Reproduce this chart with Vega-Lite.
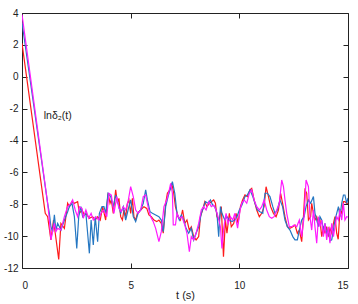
{
"$schema":"https://vega.github.io/schema/vega-lite/v6.json",
"width":326,"height":255,
"autosize":{"type":"none"},
"padding":{"left":22,"top":13,"right":10,"bottom":36},
"config":{"view":{"stroke":"#222","strokeWidth":1},"axis":{"grid":false,"domain":false,"tickColor":"#222","labelColor":"#222","labelFont":"Liberation Sans","labelFontSize":10,"titleFont":"Liberation Sans","titleFontSize":11,"titleFontWeight":"normal","titleColor":"#222","tickSize":-5,"labelExpr":"replace(datum.label, '−', '-')"}},
"layer":[
{"data":{"values":[
{"s":"red","t":0,"v":2.1},{"s":"red","t":1.07,"v":-8.57},{"s":"red","t":1.18,"v":-8.78},{"s":"red","t":1.33,"v":-10.24},{"s":"red","t":1.45,"v":-8.99},{"s":"red","t":1.69,"v":-11.46},{"s":"red","t":1.79,"v":-9.2},{"s":"red","t":1.95,"v":-9.51},{"s":"red","t":2.1,"v":-7.94},{"s":"red","t":2.18,"v":-8.15},{"s":"red","t":2.3,"v":-7.84},{"s":"red","t":2.41,"v":-7.94},{"s":"red","t":2.56,"v":-7.84},{"s":"red","t":2.64,"v":-8.57},{"s":"red","t":2.76,"v":-8.36},{"s":"red","t":2.87,"v":-8.67},{"s":"red","t":2.94,"v":-8.57},{"s":"red","t":3.1,"v":-8.88},{"s":"red","t":3.25,"v":-8.78},{"s":"red","t":3.37,"v":-8.99},{"s":"red","t":3.48,"v":-8.78},{"s":"red","t":3.6,"v":-8.99},{"s":"red","t":3.71,"v":-8.15},{"s":"red","t":3.85,"v":-8.99},{"s":"red","t":3.96,"v":-7.31},{"s":"red","t":4.05,"v":-7.94},{"s":"red","t":4.11,"v":-7.73},{"s":"red","t":4.2,"v":-8.57},{"s":"red","t":4.31,"v":-7.1},{"s":"red","t":4.39,"v":-7.94},{"s":"red","t":4.46,"v":-7.63},{"s":"red","t":4.54,"v":-8.78},{"s":"red","t":4.62,"v":-8.99},{"s":"red","t":4.69,"v":-8.36},{"s":"red","t":4.77,"v":-8.78},{"s":"red","t":4.85,"v":-7.94},{"s":"red","t":4.92,"v":-7.73},{"s":"red","t":5.0,"v":-8.57},{"s":"red","t":5.08,"v":-7.63},{"s":"red","t":5.15,"v":-8.78},{"s":"red","t":5.23,"v":-8.99},{"s":"red","t":5.31,"v":-8.57},{"s":"red","t":5.46,"v":-8.36},{"s":"red","t":5.61,"v":-8.15},{"s":"red","t":5.74,"v":-8.26},{"s":"red","t":5.84,"v":-8.67},{"s":"red","t":5.95,"v":-8.78},{"s":"red","t":6.07,"v":-8.99},{"s":"red","t":6.2,"v":-9.09},{"s":"red","t":6.3,"v":-8.99},{"s":"red","t":6.41,"v":-9.2},{"s":"red","t":6.5,"v":-9.82},{"s":"red","t":6.61,"v":-7.94},{"s":"red","t":6.69,"v":-7.31},{"s":"red","t":6.8,"v":-7.1},{"s":"red","t":6.89,"v":-6.69},{"s":"red","t":6.98,"v":-7.3},{"s":"red","t":7.06,"v":-8.15},{"s":"red","t":7.18,"v":-8.78},{"s":"red","t":7.29,"v":-8.99},{"s":"red","t":7.39,"v":-8.36},{"s":"red","t":7.49,"v":-9.2},{"s":"red","t":7.59,"v":-8.99},{"s":"red","t":7.7,"v":-9.62},{"s":"red","t":7.79,"v":-9.41},{"s":"red","t":7.9,"v":-10.03},{"s":"red","t":8.01,"v":-10.24},{"s":"red","t":8.13,"v":-10.03},{"s":"red","t":8.21,"v":-8.78},{"s":"red","t":8.31,"v":-8.36},{"s":"red","t":8.41,"v":-7.84},{"s":"red","t":8.51,"v":-8.15},{"s":"red","t":8.62,"v":-7.94},{"s":"red","t":8.71,"v":-7.84},{"s":"red","t":8.82,"v":-7.73},{"s":"red","t":8.9,"v":-7.94},{"s":"red","t":8.97,"v":-8.78},{"s":"red","t":9.08,"v":-8.99},{"s":"red","t":9.17,"v":-8.15},{"s":"red","t":9.27,"v":-11.29},{"s":"red","t":9.36,"v":-8.99},{"s":"red","t":9.43,"v":-9.82},{"s":"red","t":9.54,"v":-8.57},{"s":"red","t":9.63,"v":-9.41},{"s":"red","t":9.74,"v":-9.2},{"s":"red","t":9.85,"v":-8.57},{"s":"red","t":9.94,"v":-9.2},{"s":"red","t":10.05,"v":-8.15},{"s":"red","t":10.15,"v":-7.73},{"s":"red","t":10.26,"v":-7.42},{"s":"red","t":10.37,"v":-7.52},{"s":"red","t":10.49,"v":-7.1},{"s":"red","t":10.57,"v":-7.0},{"s":"red","t":10.68,"v":-7.73},{"s":"red","t":10.8,"v":-8.36},{"s":"red","t":10.92,"v":-8.78},{"s":"red","t":11.03,"v":-8.57},{"s":"red","t":11.14,"v":-8.15},{"s":"red","t":11.23,"v":-6.9},{"s":"red","t":11.34,"v":-7.52},{"s":"red","t":11.44,"v":-8.15},{"s":"red","t":11.57,"v":-8.57},{"s":"red","t":11.69,"v":-8.78},{"s":"red","t":11.8,"v":-8.36},{"s":"red","t":11.9,"v":-7.31},{"s":"red","t":11.99,"v":-7.94},{"s":"red","t":12.1,"v":-8.78},{"s":"red","t":12.21,"v":-9.41},{"s":"red","t":12.33,"v":-9.51},{"s":"red","t":12.46,"v":-9.41},{"s":"red","t":12.56,"v":-9.3},{"s":"red","t":12.67,"v":-9.82},{"s":"red","t":12.76,"v":-9.62},{"s":"red","t":12.87,"v":-10.35},{"s":"red","t":12.95,"v":-8.78},{"s":"red","t":13.02,"v":-7.1},{"s":"red","t":13.1,"v":-7.31},{"s":"red","t":13.18,"v":-8.99},{"s":"red","t":13.28,"v":-8.78},{"s":"red","t":13.33,"v":-7.94},{"s":"red","t":13.41,"v":-8.57},{"s":"red","t":13.48,"v":-8.99},{"s":"red","t":13.56,"v":-8.78},{"s":"red","t":13.64,"v":-9.2},{"s":"red","t":13.71,"v":-8.99},{"s":"red","t":13.79,"v":-10.03},{"s":"red","t":13.87,"v":-9.41},{"s":"red","t":13.94,"v":-9.82},{"s":"red","t":14.02,"v":-9.41},{"s":"red","t":14.1,"v":-10.03},{"s":"red","t":14.17,"v":-9.51},{"s":"red","t":14.25,"v":-9.82},{"s":"red","t":14.33,"v":-9.2},{"s":"red","t":14.4,"v":-8.78},{"s":"red","t":14.48,"v":-9.82},{"s":"red","t":14.55,"v":-10.2},{"s":"red","t":14.63,"v":-8.36},{"s":"red","t":14.71,"v":-8.57},{"s":"red","t":14.79,"v":-7.84},{"s":"red","t":14.86,"v":-7.84},{"s":"red","t":14.94,"v":-7.94},{"s":"red","t":15.0,"v":-7.94},
{"s":"blue","t":0,"v":3.4},{"s":"blue","t":1.18,"v":-7.94},{"s":"blue","t":1.26,"v":-8.57},{"s":"blue","t":1.33,"v":-9.41},{"s":"blue","t":1.41,"v":-9.72},{"s":"blue","t":1.49,"v":-8.67},{"s":"blue","t":1.56,"v":-9.62},{"s":"blue","t":1.64,"v":-9.2},{"s":"blue","t":1.72,"v":-9.41},{"s":"blue","t":1.79,"v":-9.62},{"s":"blue","t":1.95,"v":-8.99},{"s":"blue","t":2.1,"v":-8.47},{"s":"blue","t":2.18,"v":-8.15},{"s":"blue","t":2.3,"v":-7.94},{"s":"blue","t":2.41,"v":-8.78},{"s":"blue","t":2.52,"v":-10.77},{"s":"blue","t":2.61,"v":-8.78},{"s":"blue","t":2.71,"v":-8.15},{"s":"blue","t":2.79,"v":-8.78},{"s":"blue","t":2.94,"v":-8.57},{"s":"blue","t":3.02,"v":-9.82},{"s":"blue","t":3.1,"v":-11.08},{"s":"blue","t":3.18,"v":-8.99},{"s":"blue","t":3.28,"v":-10.56},{"s":"blue","t":3.37,"v":-8.78},{"s":"blue","t":3.48,"v":-10.35},{"s":"blue","t":3.56,"v":-8.57},{"s":"blue","t":3.68,"v":-8.15},{"s":"blue","t":3.77,"v":-8.15},{"s":"blue","t":3.85,"v":-8.57},{"s":"blue","t":3.96,"v":-7.31},{"s":"blue","t":4.08,"v":-7.52},{"s":"blue","t":4.2,"v":-8.15},{"s":"blue","t":4.31,"v":-7.42},{"s":"blue","t":4.42,"v":-7.94},{"s":"blue","t":4.54,"v":-8.57},{"s":"blue","t":4.66,"v":-8.15},{"s":"blue","t":4.77,"v":-8.99},{"s":"blue","t":4.88,"v":-8.36},{"s":"blue","t":5.0,"v":-7.73},{"s":"blue","t":5.12,"v":-8.78},{"s":"blue","t":5.23,"v":-9.09},{"s":"blue","t":5.34,"v":-8.57},{"s":"blue","t":5.46,"v":-8.36},{"s":"blue","t":5.58,"v":-7.94},{"s":"blue","t":5.69,"v":-7.1},{"s":"blue","t":5.77,"v":-7.73},{"s":"blue","t":5.89,"v":-8.47},{"s":"blue","t":6.0,"v":-8.57},{"s":"blue","t":6.15,"v":-8.67},{"s":"blue","t":6.3,"v":-8.78},{"s":"blue","t":6.41,"v":-8.99},{"s":"blue","t":6.5,"v":-9.72},{"s":"blue","t":6.61,"v":-8.15},{"s":"blue","t":6.72,"v":-7.52},{"s":"blue","t":6.81,"v":-7.1},{"s":"blue","t":6.92,"v":-6.58},{"s":"blue","t":7.03,"v":-7.31},{"s":"blue","t":7.13,"v":-8.57},{"s":"blue","t":7.24,"v":-8.99},{"s":"blue","t":7.33,"v":-8.67},{"s":"blue","t":7.44,"v":-8.99},{"s":"blue","t":7.55,"v":-9.51},{"s":"blue","t":7.67,"v":-9.82},{"s":"blue","t":7.79,"v":-9.51},{"s":"blue","t":7.9,"v":-10.24},{"s":"blue","t":8.01,"v":-9.82},{"s":"blue","t":8.13,"v":-9.41},{"s":"blue","t":8.25,"v":-8.57},{"s":"blue","t":8.36,"v":-8.15},{"s":"blue","t":8.44,"v":-7.84},{"s":"blue","t":8.56,"v":-7.94},{"s":"blue","t":8.67,"v":-7.73},{"s":"blue","t":8.77,"v":-8.05},{"s":"blue","t":8.87,"v":-8.15},{"s":"blue","t":8.97,"v":-8.57},{"s":"blue","t":9.05,"v":-10.03},{"s":"blue","t":9.13,"v":-8.15},{"s":"blue","t":9.2,"v":-8.57},{"s":"blue","t":9.33,"v":-8.99},{"s":"blue","t":9.43,"v":-8.78},{"s":"blue","t":9.54,"v":-8.99},{"s":"blue","t":9.66,"v":-9.09},{"s":"blue","t":9.79,"v":-8.99},{"s":"blue","t":9.89,"v":-8.78},{"s":"blue","t":10.0,"v":-8.36},{"s":"blue","t":10.12,"v":-8.05},{"s":"blue","t":10.26,"v":-7.52},{"s":"blue","t":10.37,"v":-7.42},{"s":"blue","t":10.49,"v":-7.1},{"s":"blue","t":10.62,"v":-7.52},{"s":"blue","t":10.72,"v":-7.94},{"s":"blue","t":10.83,"v":-8.36},{"s":"blue","t":10.95,"v":-8.47},{"s":"blue","t":11.08,"v":-8.57},{"s":"blue","t":11.18,"v":-7.31},{"s":"blue","t":11.29,"v":-7.31},{"s":"blue","t":11.41,"v":-7.52},{"s":"blue","t":11.54,"v":-8.15},{"s":"blue","t":11.64,"v":-8.57},{"s":"blue","t":11.75,"v":-8.36},{"s":"blue","t":11.87,"v":-7.73},{"s":"blue","t":11.99,"v":-8.15},{"s":"blue","t":12.1,"v":-8.99},{"s":"blue","t":12.21,"v":-9.41},{"s":"blue","t":12.33,"v":-9.62},{"s":"blue","t":12.46,"v":-10.03},{"s":"blue","t":12.56,"v":-10.24},{"s":"blue","t":12.67,"v":-10.24},{"s":"blue","t":12.76,"v":-9.62},{"s":"blue","t":12.87,"v":-8.99},{"s":"blue","t":12.98,"v":-8.78},{"s":"blue","t":13.07,"v":-8.15},{"s":"blue","t":13.18,"v":-7.73},{"s":"blue","t":13.28,"v":-7.94},{"s":"blue","t":13.41,"v":-7.52},{"s":"blue","t":13.48,"v":-8.57},{"s":"blue","t":13.56,"v":-8.99},{"s":"blue","t":13.64,"v":-9.41},{"s":"blue","t":13.71,"v":-8.78},{"s":"blue","t":13.79,"v":-8.99},{"s":"blue","t":13.87,"v":-9.62},{"s":"blue","t":13.94,"v":-9.2},{"s":"blue","t":14.02,"v":-9.82},{"s":"blue","t":14.1,"v":-9.62},{"s":"blue","t":14.17,"v":-10.3},{"s":"blue","t":14.25,"v":-10.24},{"s":"blue","t":14.33,"v":-9.62},{"s":"blue","t":14.4,"v":-8.99},{"s":"blue","t":14.48,"v":-8.57},{"s":"blue","t":14.56,"v":-8.15},{"s":"blue","t":14.63,"v":-8.78},{"s":"blue","t":14.71,"v":-7.94},{"s":"blue","t":14.79,"v":-7.42},{"s":"blue","t":14.86,"v":-7.42},{"s":"blue","t":14.94,"v":-7.94},{"s":"blue","t":15.0,"v":-7.6},
{"s":"magenta","t":0,"v":3.9},{"s":"magenta","t":1.18,"v":-7.94},{"s":"magenta","t":1.26,"v":-8.99},{"s":"magenta","t":1.33,"v":-10.24},{"s":"magenta","t":1.49,"v":-9.2},{"s":"magenta","t":1.56,"v":-9.72},{"s":"magenta","t":1.64,"v":-9.51},{"s":"magenta","t":1.79,"v":-9.62},{"s":"magenta","t":1.95,"v":-8.78},{"s":"magenta","t":2.1,"v":-8.15},{"s":"magenta","t":2.25,"v":-7.94},{"s":"magenta","t":2.33,"v":-7.73},{"s":"magenta","t":2.45,"v":-8.36},{"s":"magenta","t":2.56,"v":-8.78},{"s":"magenta","t":2.64,"v":-8.15},{"s":"magenta","t":2.76,"v":-8.26},{"s":"magenta","t":2.82,"v":-8.88},{"s":"magenta","t":2.94,"v":-8.36},{"s":"magenta","t":3.07,"v":-8.88},{"s":"magenta","t":3.18,"v":-8.57},{"s":"magenta","t":3.28,"v":-8.99},{"s":"magenta","t":3.4,"v":-8.78},{"s":"magenta","t":3.53,"v":-8.99},{"s":"magenta","t":3.63,"v":-8.57},{"s":"magenta","t":3.77,"v":-8.36},{"s":"magenta","t":3.9,"v":-8.78},{"s":"magenta","t":4.0,"v":-7.31},{"s":"magenta","t":4.11,"v":-7.42},{"s":"magenta","t":4.23,"v":-8.57},{"s":"magenta","t":4.36,"v":-7.52},{"s":"magenta","t":4.46,"v":-8.26},{"s":"magenta","t":4.57,"v":-8.47},{"s":"magenta","t":4.66,"v":-8.15},{"s":"magenta","t":4.77,"v":-8.36},{"s":"magenta","t":4.88,"v":-7.84},{"s":"magenta","t":5.0,"v":-6.9},{"s":"magenta","t":5.12,"v":-7.52},{"s":"magenta","t":5.23,"v":-8.36},{"s":"magenta","t":5.34,"v":-8.57},{"s":"magenta","t":5.46,"v":-8.36},{"s":"magenta","t":5.58,"v":-7.52},{"s":"magenta","t":5.69,"v":-7.42},{"s":"magenta","t":5.8,"v":-8.15},{"s":"magenta","t":5.92,"v":-8.78},{"s":"magenta","t":6.04,"v":-9.09},{"s":"magenta","t":6.15,"v":-9.51},{"s":"magenta","t":6.3,"v":-10.35},{"s":"magenta","t":6.41,"v":-9.72},{"s":"magenta","t":6.53,"v":-8.15},{"s":"magenta","t":6.66,"v":-7.73},{"s":"magenta","t":6.76,"v":-7.21},{"s":"magenta","t":6.84,"v":-6.69},{"s":"magenta","t":6.92,"v":-7.31},{"s":"magenta","t":6.96,"v":-9.3},{"s":"magenta","t":7.06,"v":-9.3},{"s":"magenta","t":7.13,"v":-8.57},{"s":"magenta","t":7.24,"v":-8.88},{"s":"magenta","t":7.36,"v":-8.78},{"s":"magenta","t":7.49,"v":-9.3},{"s":"magenta","t":7.59,"v":-9.82},{"s":"magenta","t":7.7,"v":-10.98},{"s":"magenta","t":7.79,"v":-10.03},{"s":"magenta","t":7.9,"v":-10.24},{"s":"magenta","t":8.01,"v":-9.82},{"s":"magenta","t":8.13,"v":-9.2},{"s":"magenta","t":8.25,"v":-8.36},{"s":"magenta","t":8.36,"v":-8.15},{"s":"magenta","t":8.47,"v":-8.36},{"s":"magenta","t":8.59,"v":-7.84},{"s":"magenta","t":8.71,"v":-8.15},{"s":"magenta","t":8.82,"v":-8.05},{"s":"magenta","t":8.93,"v":-8.36},{"s":"magenta","t":9.02,"v":-8.78},{"s":"magenta","t":9.13,"v":-9.41},{"s":"magenta","t":9.2,"v":-10.77},{"s":"magenta","t":9.28,"v":-9.51},{"s":"magenta","t":9.39,"v":-8.57},{"s":"magenta","t":9.48,"v":-9.2},{"s":"magenta","t":9.59,"v":-8.78},{"s":"magenta","t":9.7,"v":-8.99},{"s":"magenta","t":9.79,"v":-8.57},{"s":"magenta","t":9.92,"v":-9.5},{"s":"magenta","t":10.03,"v":-8.4},{"s":"magenta","t":10.11,"v":-7.94},{"s":"magenta","t":10.22,"v":-7.73},{"s":"magenta","t":10.34,"v":-7.94},{"s":"magenta","t":10.46,"v":-7.31},{"s":"magenta","t":10.57,"v":-7.1},{"s":"magenta","t":10.68,"v":-7.73},{"s":"magenta","t":10.8,"v":-8.15},{"s":"magenta","t":10.92,"v":-8.36},{"s":"magenta","t":11.03,"v":-8.15},{"s":"magenta","t":11.14,"v":-7.73},{"s":"magenta","t":11.26,"v":-8.36},{"s":"magenta","t":11.38,"v":-8.78},{"s":"magenta","t":11.49,"v":-8.88},{"s":"magenta","t":11.6,"v":-8.78},{"s":"magenta","t":11.72,"v":-8.36},{"s":"magenta","t":11.84,"v":-7.94},{"s":"magenta","t":11.95,"v":-6.48},{"s":"magenta","t":12.03,"v":-6.9},{"s":"magenta","t":12.1,"v":-7.73},{"s":"magenta","t":12.18,"v":-8.57},{"s":"magenta","t":12.3,"v":-9.41},{"s":"magenta","t":12.41,"v":-9.41},{"s":"magenta","t":12.52,"v":-9.3},{"s":"magenta","t":12.64,"v":-9.41},{"s":"magenta","t":12.76,"v":-8.99},{"s":"magenta","t":12.87,"v":-10.03},{"s":"magenta","t":12.98,"v":-8.78},{"s":"magenta","t":13.07,"v":-6.48},{"s":"magenta","t":13.18,"v":-6.9},{"s":"magenta","t":13.25,"v":-8.78},{"s":"magenta","t":13.33,"v":-9.62},{"s":"magenta","t":13.41,"v":-8.36},{"s":"magenta","t":13.48,"v":-9.41},{"s":"magenta","t":13.56,"v":-10.45},{"s":"magenta","t":13.64,"v":-8.78},{"s":"magenta","t":13.71,"v":-9.41},{"s":"magenta","t":13.79,"v":-8.99},{"s":"magenta","t":13.87,"v":-10.03},{"s":"magenta","t":13.94,"v":-9.2},{"s":"magenta","t":14.02,"v":-10.24},{"s":"magenta","t":14.1,"v":-9.41},{"s":"magenta","t":14.17,"v":-10.45},{"s":"magenta","t":14.25,"v":-9.2},{"s":"magenta","t":14.33,"v":-10.03},{"s":"magenta","t":14.4,"v":-9.41},{"s":"magenta","t":14.48,"v":-8.78},{"s":"magenta","t":14.56,"v":-8.99},{"s":"magenta","t":14.63,"v":-8.36},{"s":"magenta","t":14.71,"v":-8.99},{"s":"magenta","t":14.79,"v":-7.94},{"s":"magenta","t":14.86,"v":-8.99},{"s":"magenta","t":14.94,"v":-8.78},{"s":"magenta","t":15.0,"v":-8.8}
]},
"mark":{"type":"line","strokeWidth":1.2,"clip":true},
"encoding":{
"x":{"field":"t","type":"quantitative","scale":{"domain":[0,15],"nice":false},"axis":{"values":[0,5,10,15],"title":"t (s)","labelPadding":17,"titlePadding":-1}},
"y":{"field":"v","type":"quantitative","scale":{"domain":[-12,4],"nice":false},"axis":{"values":[-12,-10,-8,-6,-4,-2,0,2,4],"title":null,"labelPadding":9}},
"color":{"field":"s","type":"nominal","scale":{"domain":["red","blue","magenta"],"range":["#ff1a1a","#2577c2","#ff1aff"]},"legend":null}}},
{"data":{"values":[{"t":1.0,"v":-2.46,"label":"lnδ₂(t)"}]},
"mark":{"type":"text","align":"left","baseline":"middle","font":"Liberation Sans","fontSize":10.5,"color":"#222"},
"encoding":{
"x":{"field":"t","type":"quantitative","axis":{"orient":"top","values":[0,5,10,15],"labels":false,"title":null}},
"y":{"field":"v","type":"quantitative","axis":{"orient":"right","values":[-12,-10,-8,-6,-4,-2,0,2,4],"labels":false,"title":null}},
"text":{"field":"label"}}}
],
"resolve":{"axis":{"x":"independent","y":"independent"}}
}
